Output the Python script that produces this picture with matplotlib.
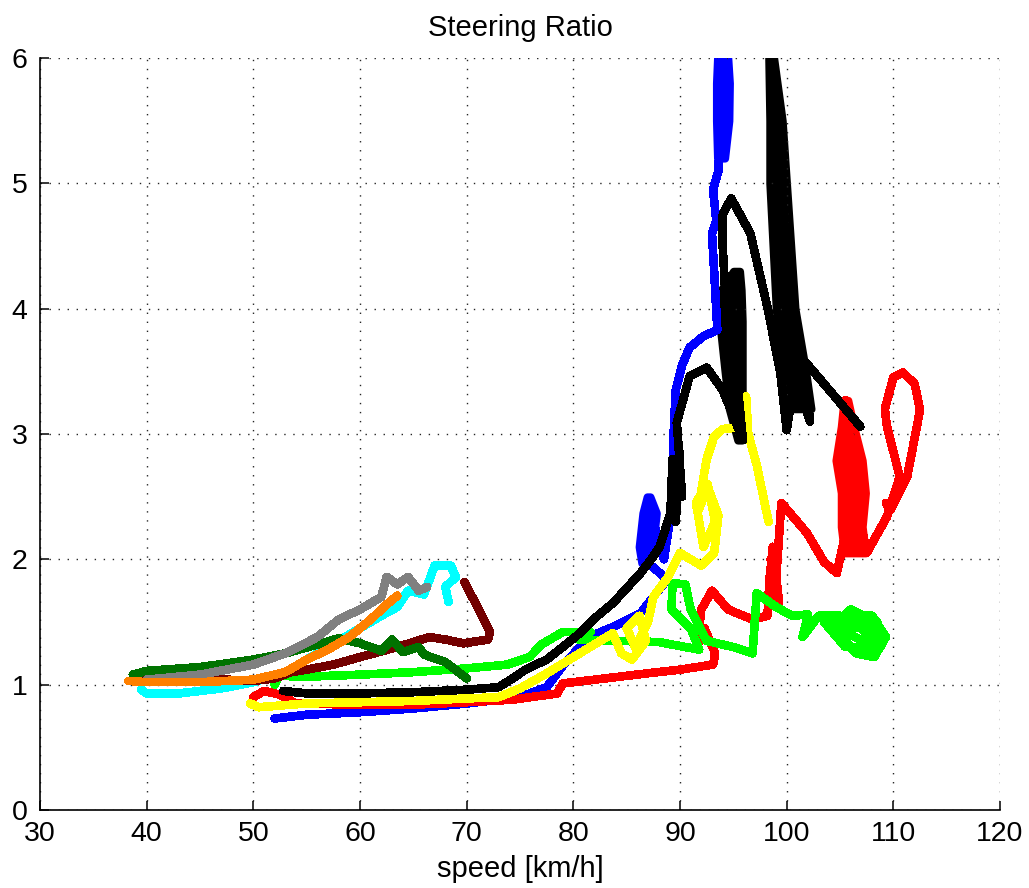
import matplotlib
matplotlib.use("Agg")
import matplotlib.pyplot as plt

# speed [km/h] / steering ratio traces, one per run
blue_x = [52, 55, 60, 65, 70, 75, 77.5, 79, 80.6, 82, 83.7, 86.3, 88.8, 86.6, 87.0, 88.5, 89.2, 89.4,
          89.6, 90.2, 90.9, 92.2, 93.5, 93.2, 93.0, 93.4, 93.1, 93.6, 93.8, 94.0]
blue_y = [0.73, 0.76, 0.78, 0.81, 0.85, 0.9, 0.98, 1.15, 1.3, 1.4, 1.46, 1.57, 1.84, 2.0, 2.45, 2.0,
          2.4, 3.0, 3.35, 3.55, 3.69, 3.78, 3.83, 4.3, 4.6, 4.7, 4.95, 5.1, 5.5, 6.0]

red_x = [50, 51, 52.5, 54, 60, 65, 70, 74.3, 78.5, 79, 83, 86.9, 90, 93.1, 93.3, 92.3, 91.6, 92.0,
         93, 94.5, 96.8, 98.2, 98.4, 98.7, 99.3, 98.5, 98.9, 99.5, 100, 101.9, 103.5, 104.7, 105.5,
         105.5, 106.5, 107.5, 109.4, 110.6, 109.4, 109.2, 110.0, 110.9, 112.0, 112.5, 111.3, 109.7,
         109.3]
red_y = [0.9, 0.95, 0.92, 0.85, 0.84, 0.84, 0.86, 0.88, 0.93, 1.01, 1.05, 1.09, 1.12, 1.16, 1.25, 1.45,
         1.3, 1.6, 1.75, 1.6, 1.52, 1.55, 1.85, 2.1, 1.65, 2.0, 1.7, 2.45, 2.4, 2.21, 1.98, 1.89, 2.2,
         3.27, 2.5, 2.05, 2.34, 2.66, 3.06, 3.2, 3.45, 3.49, 3.4, 3.19, 2.66, 2.39, 2.45]

green_x = [52, 52.5, 54, 60, 65, 70, 73.8, 75.9, 77, 79, 81.6, 80.5, 84, 88, 91.8, 91, 89.2, 89.3,
           90.5, 91, 92.5, 95, 96.8, 97.2, 99, 100.5, 102, 101.5, 103, 105, 107, 108.8, 108.5, 106,
           104.5, 107, 108.5, 105.5, 104, 106, 108.5, 108.8, 107, 105, 103.5, 106, 108, 109.3,
           108.2, 106.5, 104.8, 107.5, 108.6]
green_y = [1.0, 1.08, 1.06, 1.08, 1.1, 1.13, 1.16, 1.22, 1.32, 1.42, 1.42, 1.36, 1.35, 1.34, 1.28, 1.45,
           1.6, 1.81, 1.8, 1.6, 1.35, 1.3, 1.25, 1.73, 1.62, 1.55, 1.56, 1.38, 1.55, 1.55, 1.5, 1.4,
           1.28, 1.4, 1.5, 1.45, 1.3, 1.3, 1.45, 1.6, 1.5, 1.3, 1.25, 1.35, 1.5, 1.55, 1.55, 1.38,
           1.22, 1.25, 1.42, 1.48, 1.32]

yellow_x = [49.7, 50.5, 55, 60, 65, 70, 73, 75, 77.5, 80.6, 83.7, 84.5, 85.5, 86.8, 86.2, 85, 85.8,
            87, 87.5, 88.8, 90, 91, 92, 93.2, 93.6, 92.5, 91.5, 92.2, 93.3, 92.6, 91.8, 92.0, 92.5,
            93.2, 94.0, 95.2, 95.9, 96.2, 96.4, 97.2, 98.3]
yellow_y = [0.85, 0.82, 0.85, 0.86, 0.87, 0.89, 0.9, 0.97, 1.09, 1.25, 1.41, 1.25, 1.2, 1.35, 1.55,
            1.45, 1.3, 1.5, 1.7, 1.85, 2.05, 2.0, 1.95, 2.05, 2.35, 2.6, 2.45, 2.1, 2.3, 2.6, 2.4,
            2.55, 2.8, 2.98, 3.04, 3.05, 3.05, 3.3, 3.0, 2.75, 2.3]

black_x = [52.8, 55, 60, 65, 70, 73, 74.5, 75.5, 77.5, 79, 80.6, 82, 83.7, 85, 86.3, 87.3, 88.1, 89.1,
           89.3, 89.6, 90.0, 89.4, 90.2, 89.7, 90.9, 92.5, 94.0, 95.2, 95.9, 95.5, 94.2, 94.0, 94.0,
           94.8, 96.6, 98.2, 99.4, 100.0, 100.5, 98.5, 101.0, 102.2, 101.5, 104.0, 106.9]
black_y = [0.95, 0.93, 0.93, 0.94, 0.96, 0.98, 1.06, 1.12, 1.2, 1.3, 1.41, 1.53, 1.65, 1.77, 1.89,
           2.0, 2.1, 2.37, 2.8, 2.3, 2.85, 2.6, 2.5, 3.09, 3.46, 3.53, 3.35, 3.1, 2.95, 3.3, 4.2, 4.5,
           4.75, 4.88, 4.6, 4.01, 3.49, 3.03, 3.3, 6.0, 3.4, 3.1, 3.6, 3.35, 3.06]

cyan_x = [39.5, 40, 43, 47, 50, 53, 56, 59, 62, 63.5, 64.5, 66, 67, 68.5, 69, 68, 68.3]
cyan_y = [0.96, 0.93, 0.93, 0.97, 1.02, 1.1, 1.25, 1.4, 1.55, 1.62, 1.75, 1.72, 1.95, 1.95, 1.86, 1.78,
          1.66]

maroon_x = [39.5, 45, 50, 52, 53.5, 55, 57.5, 60, 63.5, 66.5, 68, 69.7, 72, 72.2, 71.3, 69.8]
maroon_y = [1.06, 1.05, 1.03, 1.05, 1.1, 1.12, 1.16, 1.22, 1.3, 1.38, 1.36, 1.33, 1.36, 1.42, 1.57, 1.82]

dkgreen_x = [38.7, 40, 45, 50, 53, 56, 58, 60, 62, 63, 64, 65.5, 66, 68, 70]
dkgreen_y = [1.08, 1.11, 1.14, 1.2, 1.25, 1.32, 1.37, 1.33, 1.27, 1.36, 1.26, 1.30, 1.24, 1.18, 1.05]

gray_x = [40, 45, 50, 53, 56, 58, 60, 62, 62.5, 63.5, 64.5, 65.5, 66.3]
gray_y = [1.04, 1.08, 1.16, 1.25, 1.38, 1.52, 1.6, 1.7, 1.86, 1.8, 1.86, 1.75, 1.78]

orange_x = [38.3, 40, 45, 50, 53, 55, 57, 59, 61, 62.5, 63.5]
orange_y = [1.03, 1.02, 1.02, 1.04, 1.1, 1.2, 1.28, 1.38, 1.52, 1.64, 1.71]

# where a run oscillates fast the trace smears into a solid band: y, left speed, right speed
blue_top_y = [5.2, 5.5, 5.8, 6.0]
blue_top_lo = [93.5, 93.4, 93.4, 93.5]
blue_top_hi = [94.2, 94.6, 94.65, 94.5]
blue_knot_y = [1.97, 2.1, 2.37, 2.5]
blue_knot_lo = [86.4, 86.15, 86.5, 86.9]
blue_knot_hi = [86.8, 87.45, 87.8, 87.2]
red_band_y = [2.05, 2.26, 2.53, 2.79, 3.06, 3.27]
red_band_lo = [105.4, 105.1, 105.1, 104.6, 105.1, 105.35]
red_band_hi = [107.4, 107.1, 107.4, 107.1, 106.3, 105.75]
black_band_y = [2.95, 3.2, 3.5, 3.9, 4.15, 4.3]
black_band_lo = [95.4, 94.6, 94.2, 93.7, 93.85, 95.0]
black_band_hi = [95.8, 95.85, 95.85, 95.85, 95.75, 95.6]
black_spike_y = [3.2, 3.5, 4.0, 4.5, 5.0, 5.5, 6.0]
black_spike_lo = [99.8, 99.5, 99.0, 98.7, 98.4, 98.4, 98.3]
black_spike_hi = [102.3, 101.8, 100.8, 100.4, 100.0, 99.6, 98.8]

traces = [
    (blue_x, blue_y, (0, 0, 1), [(blue_top_y, blue_top_lo, blue_top_hi),
                                 (blue_knot_y, blue_knot_lo, blue_knot_hi)]),
    (red_x, red_y, (1, 0, 0), [(red_band_y, red_band_lo, red_band_hi)]),
    (green_x, green_y, (0, 1, 0), []),
    (yellow_x, yellow_y, (1, 1, 0), []),
    (black_x, black_y, (0, 0, 0), [(black_band_y, black_band_lo, black_band_hi),
                                   (black_spike_y, black_spike_lo, black_spike_hi)]),
    (cyan_x, cyan_y, (0, 1, 1), []),
    (maroon_x, maroon_y, (0.45, 0, 0), []),
    (dkgreen_x, dkgreen_y, (0, 0.45, 0), []),
    (gray_x, gray_y, (0.5, 0.5, 0.5), []),
    (orange_x, orange_y, (1, 0.5, 0), []),
]

plt.rcParams['font.family'] = ['Liberation Sans', 'DejaVu Sans']

fig = plt.figure(figsize=(10.29, 8.88), dpi=100)
ax = fig.add_axes([40 / 1029, 78 / 888, 960 / 1029, 752 / 888])

for x, y, c, bands in traces:
    ax.plot(x, y, color=c, lw=5.5, solid_joinstyle='round', solid_capstyle='round', antialiased=False)
    for by, lo, hi in bands:
        ax.fill_betweenx(by, lo, hi, facecolor=c, edgecolor=c, lw=5.5, joinstyle='round',
                         antialiased=False)

ax.set_xlim(30, 120)
ax.set_ylim(0, 6)
ax.set_xticks(range(30, 121, 10))
ax.set_yticks(range(0, 7))
ax.grid(True, color='0.15', lw=1.0, linestyle=(0, (1, 5.5)))
ax.spines['top'].set_visible(False)
ax.spines['right'].set_visible(False)
for s in ('left', 'bottom'):
    ax.spines[s].set_linewidth(1.2)
ax.tick_params(direction='in', length=6.5, width=1.1, labelsize=20.5)
ax.tick_params(axis='x', pad=8)
ax.tick_params(axis='y', pad=9)

ax.set_title('Steering Ratio', fontsize=21, pad=16)
ax.set_xlabel('speed [km/h]', fontsize=21, labelpad=6)

fig.savefig('out.png', dpi=100)
